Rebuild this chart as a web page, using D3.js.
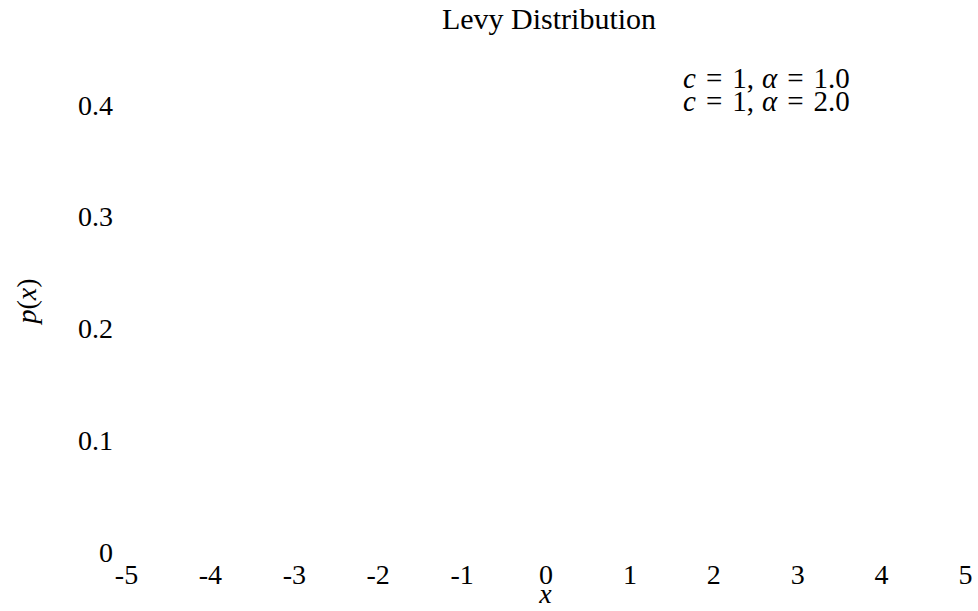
<!DOCTYPE html>
<html>
<head>
<meta charset="utf-8">
<script src="https://cdn.jsdelivr.net/npm/d3@7"></script>
<style>
  html, body { margin: 0; padding: 0; background: #fff; }
  svg { display: block; }
  text { font-family: "Liberation Serif", "DejaVu Serif", serif; fill: #000; }
</style>
</head>
<body>
<svg id="chart" width="978" height="611"></svg>
<script>
// Chart content
const title = "Levy Distribution";
const xTicks = [-5, -4, -3, -2, -1, 0, 1, 2, 3, 4, 5];
const yTicks = [0, 0.1, 0.2, 0.3, 0.4];
// Legend entries: Lévy parameters c (scale) and alpha
const seriesC = ["1", "1"];
const seriesAlpha = ["1.0", "2.0"];

const svg = d3.select("#chart");

const x = d3.scaleLinear().domain([-5, 5]).range([126, 965]);
const y = d3.scaleLinear().domain([0, 0.4]).range([561, 114]);

// Title
svg.append("text")
  .attr("x", 549).attr("y", 29)
  .attr("text-anchor", "middle")
  .style("font-size", "30px")
  .text(title);

// X axis (labels only)
const gx = svg.append("g")
  .attr("transform", "translate(0,584)")
  .call(d3.axisBottom(x).tickValues(xTicks).tickSize(0).tickFormat(d => String(d)));
gx.select(".domain").remove();
gx.selectAll("text")
  .attr("y", 0).attr("dy", 0)
  .style("font-size", "28px")
  .style("font-family", "'Liberation Serif', serif")
  .attr("fill", "#000");

// Y axis (labels only)
const gy = svg.append("g")
  .attr("transform", "translate(113,0)")
  .call(d3.axisLeft(y).tickValues(yTicks).tickSize(0).tickFormat(d => String(d)));
gy.select(".domain").remove();
gy.selectAll("text")
  .attr("x", 0).attr("dy", 0)
  .style("font-size", "28px")
  .style("font-family", "'Liberation Serif', serif")
  .attr("fill", "#000");

// Axis titles
svg.append("text")
  .attr("x", x(0)).attr("y", 603)
  .attr("text-anchor", "middle")
  .style("font-size", "28px")
  .style("font-style", "italic")
  .text("x");

const yl = svg.append("text")
  .attr("transform", "translate(36,301) rotate(-90)")
  .attr("text-anchor", "middle")
  .style("font-size", "28px");
yl.append("tspan").style("font-style", "italic").text("p");
yl.append("tspan").text("(");
yl.append("tspan").style("font-style", "italic").text("x");
yl.append("tspan").text(")");

// Legend (text entries, math-style spacing around relations)
const legend = svg.append("g").attr("transform", "translate(683,88)");
seriesAlpha.forEach((a, i) => {
  const t = legend.append("text")
    .attr("x", 0).attr("y", i * 23)
    .style("font-size", "29px");
  t.append("tspan").style("font-style", "italic").text("c");
  t.append("tspan").attr("dx", 10).text("=");
  t.append("tspan").attr("dx", 10).text(seriesC[i] + ",");
  t.append("tspan").attr("dx", 8).style("font-style", "italic").text("α");
  t.append("tspan").attr("dx", 10).text("=");
  t.append("tspan").attr("dx", 10).text(a);
});
</script>
</body>
</html>
